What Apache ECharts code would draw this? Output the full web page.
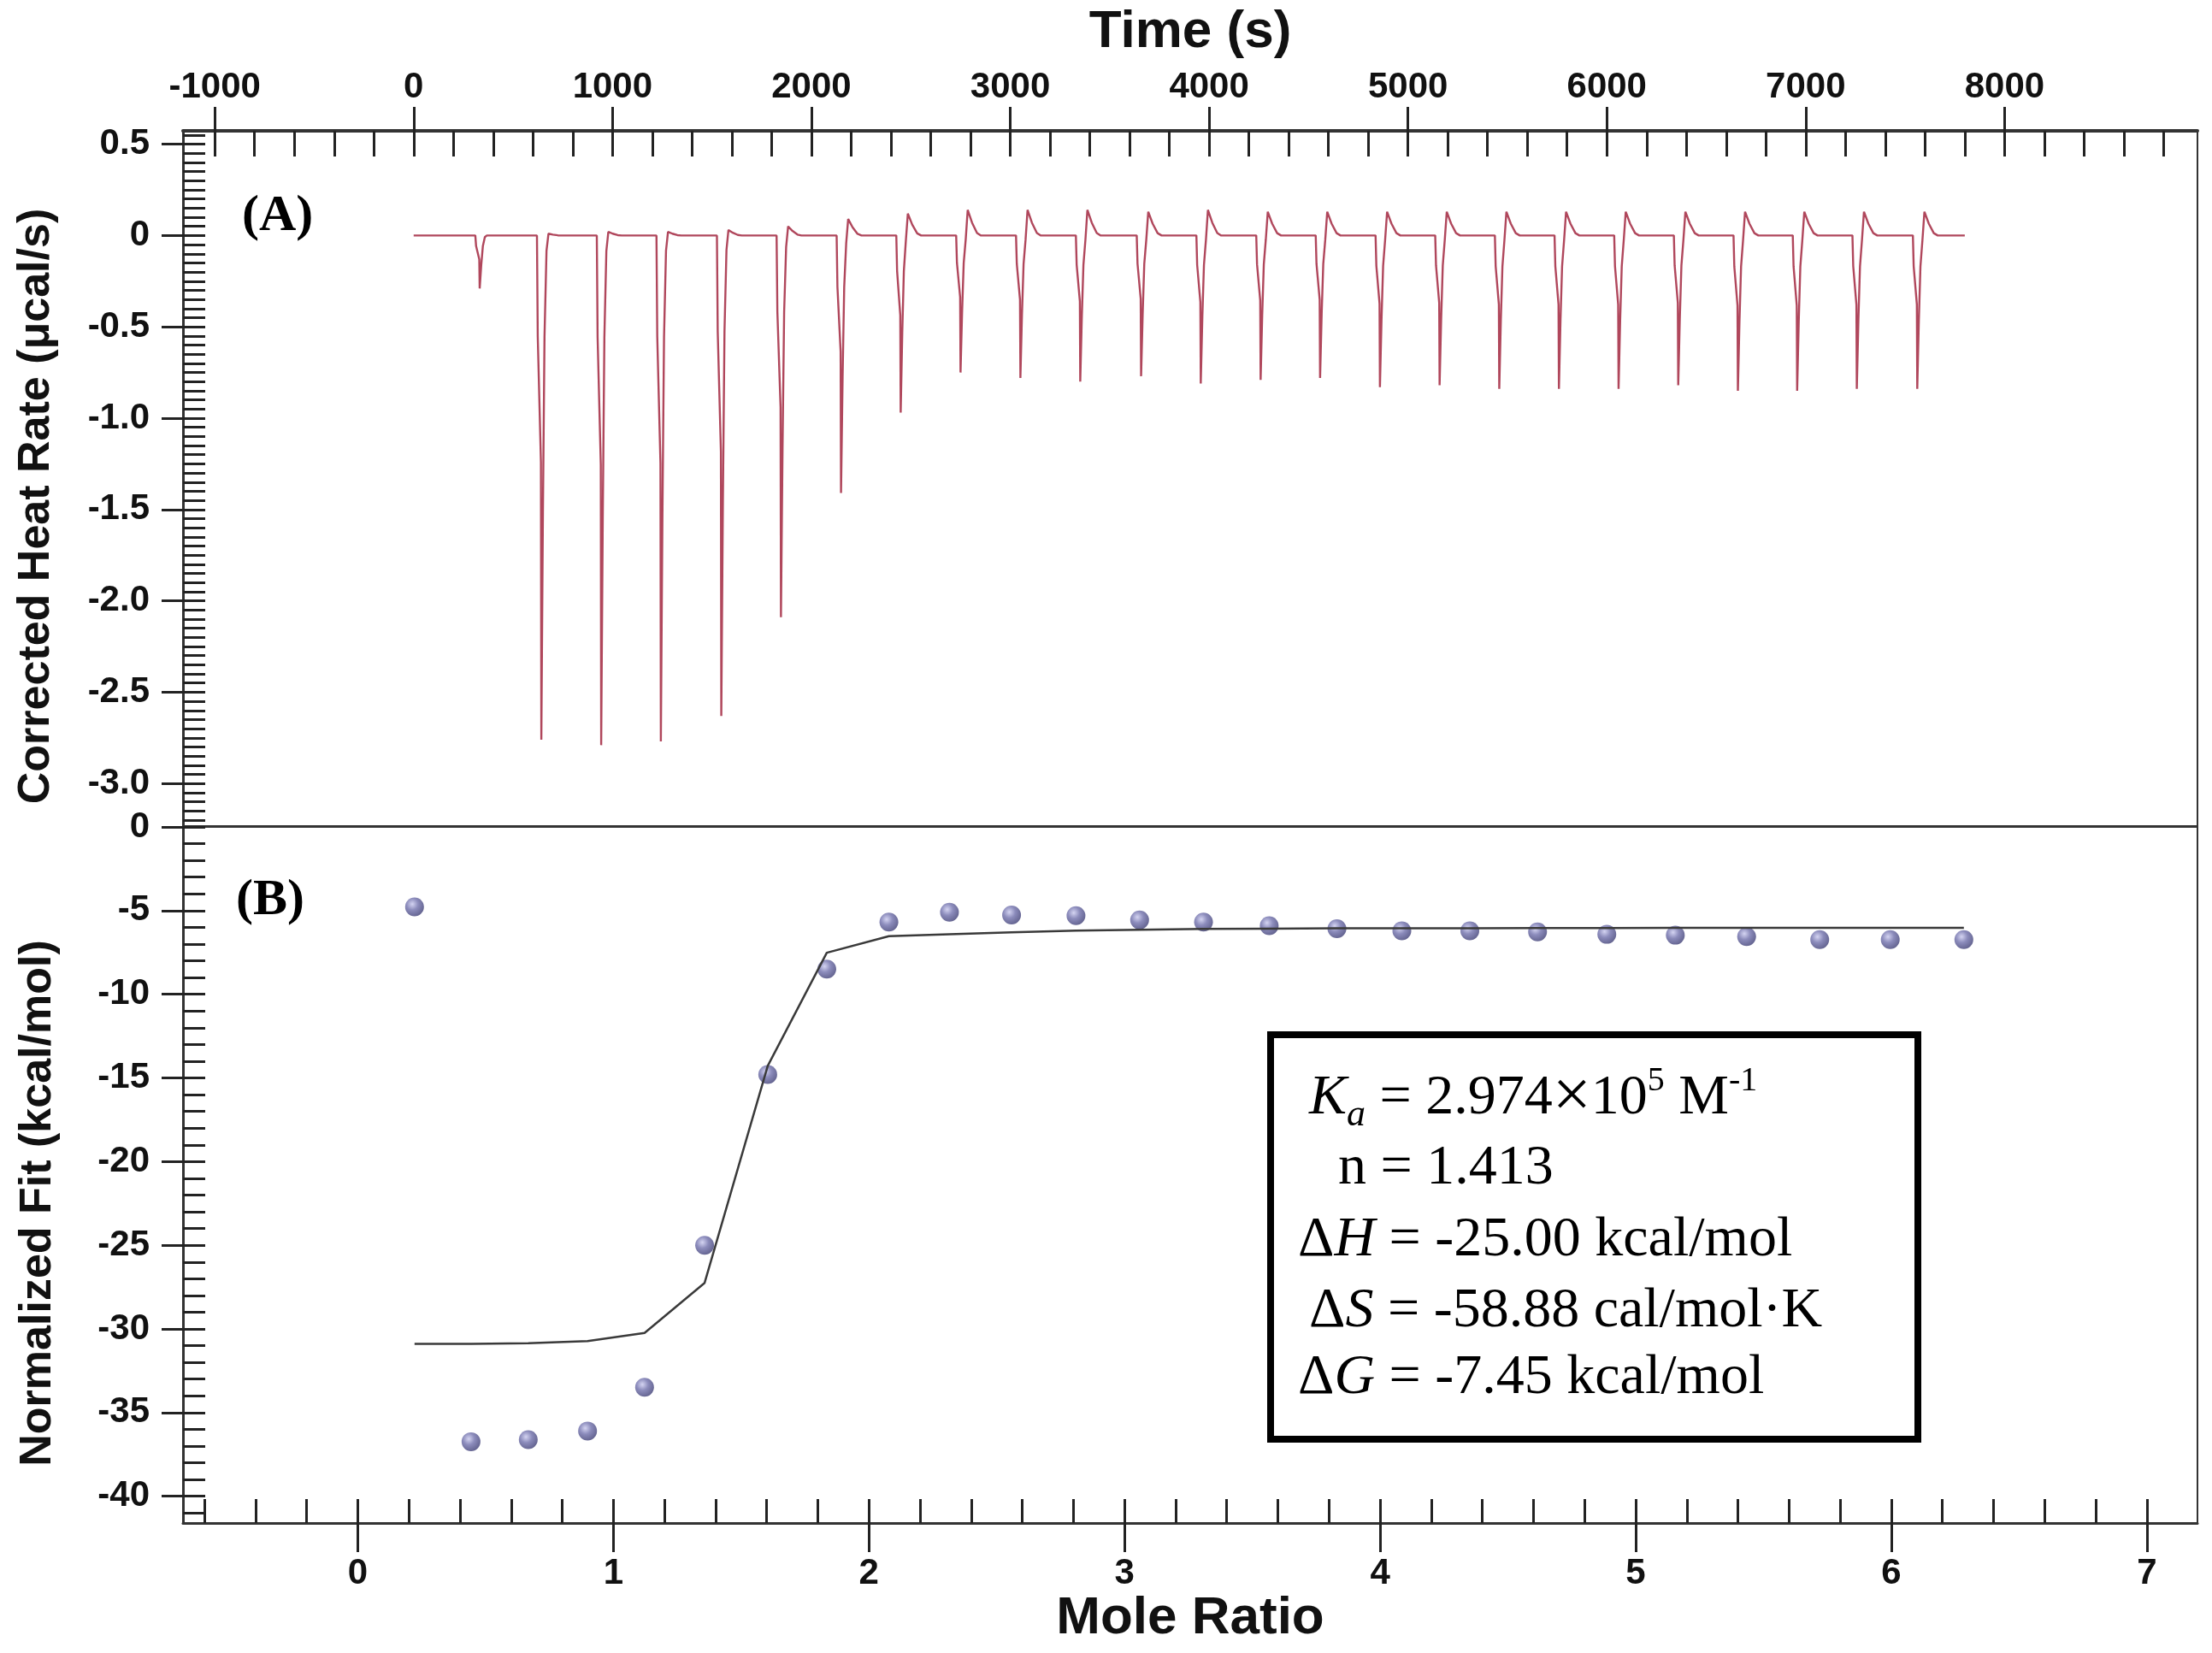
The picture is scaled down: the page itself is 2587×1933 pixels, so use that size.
<!DOCTYPE html>
<html>
<head>
<meta charset="utf-8">
<script src="https://cdn.jsdelivr.net/npm/echarts@6/dist/echarts.min.js"></script>
<style>
html, body { margin: 0; padding: 0; background: #fff; }
#main { width: 2587px; height: 1933px; }
</style>
</head>
<body>
<div id="main"></div>
<script>
// (A) raw heat rate: one peak per injection
var injTime = [310, 620, 921, 1221, 1525, 1825, 2127, 2427, 2728, 3029, 3330, 3636, 3936,
    4237, 4536, 4837, 5137, 5437, 5737, 6037, 6337, 6637, 6935, 7235, 7539];
var peakMin = [-0.29, -2.76, -2.79, -2.77, -2.63, -2.09, -1.41, -0.97, -0.75, -0.78, -0.80, -0.77, -0.81,
    -0.79, -0.78, -0.83, -0.82, -0.84, -0.84, -0.84, -0.82, -0.85, -0.85, -0.84, -0.84];
var peakTop = [0, 0.01, 0.02, 0.02, 0.03, 0.05, 0.09, 0.12, 0.14, 0.14, 0.14, 0.13, 0.14,
    0.13, 0.13, 0.13, 0.13, 0.13, 0.13, 0.13, 0.13, 0.13, 0.13, 0.13, 0.13];
var traceStart = 0, traceEnd = 7800;
// peak outline: seconds after injection, share of the minimum, share of the overshoot
var shapeSec = [0, 4, 20, 22, 30, 38, 48, 58, 80, 105, 125];
var shapeMin = [0, 0.2, 0.45, 1, 0.55, 0.2, 0.03, 0, 0, 0, 0];
var shapeTop = [0, 0, 0, 0, 0, 0, 0, 1, 0.5, 0.1, 0];

// (B) integrated heats and fit
var moleRatio = [0.222, 0.443, 0.667, 0.899, 1.122, 1.357, 1.604, 1.835, 2.078, 2.315, 2.558, 2.81, 3.059,
    3.309, 3.566, 3.831, 4.085, 4.351, 4.616, 4.887, 5.155, 5.434, 5.72, 5.996, 6.284];
var heatObs = [-4.78, -36.74, -36.62, -36.10, -33.49, -25.0, -14.80, -8.50, -5.69, -5.10, -5.26, -5.30, -5.56,
    -5.69, -5.90, -6.08, -6.21, -6.21, -6.27, -6.42, -6.47, -6.55, -6.73, -6.73, -6.73];
var heatFit = [-30.89, -30.89, -30.85, -30.73, -30.24, -27.25, -14.28, -7.52, -6.53, -6.42, -6.30, -6.20, -6.15,
    -6.10, -6.08, -6.06, -6.05, -6.05, -6.04, -6.04, -6.03, -6.03, -6.03, -6.03, -6.03];

// tick labels
var timeLabels = [-1000, 0, 1000, 2000, 3000, 4000, 5000, 6000, 7000, 8000];
var rateLabels = [0.5, 0, -0.5, -1.0, -1.5, -2.0, -2.5, -3.0];
var fitLabels = [0, -5, -10, -15, -20, -25, -30, -35, -40];
var ratioLabels = [0, 1, 2, 3, 4, 5, 6, 7];

var SANS = '"Liberation Sans", Arial, sans-serif';
var SERIF = '"Liberation Serif", "Times New Roman", serif';

function steps(from, to, step) {
    var out = [];
    for (var v = from; v <= to + 1e-9; v += step) {
        out.push(+v.toFixed(4));
    }
    return out;
}

var trace = [[traceStart, 0]];
injTime.forEach(function (t0, i) {
    shapeSec.forEach(function (s, j) {
        trace.push([t0 + s, +(peakMin[i] * shapeMin[j] + peakTop[i] * shapeTop[j]).toFixed(4)]);
    });
});
trace.push([traceEnd, 0]);

var obsData = moleRatio.map(function (x, i) { return [x, heatObs[i]]; });
var fitData = moleRatio.map(function (x, i) { return [x, heatFit[i]]; });

var tickStyle = { color: '#222', width: 3 };
var labelStyle = { color: '#111', fontSize: 42, fontWeight: 'bold', fontFamily: SANS };

// inner axis: line + all ticks pointing in; outer axis: major ticks pointing out + labels
function innerAxis(base, ticks, len, lineWidth) {
    return Object.assign({
        type: 'value',
        splitLine: { show: false },
        axisLine: { show: true, onZero: false, lineStyle: { color: '#333', width: lineWidth } },
        axisTick: { show: true, inside: true, length: len, customValues: ticks, lineStyle: tickStyle },
        axisLabel: { show: false }
    }, base);
}
function outerAxis(base, labels, len, margin, fmt) {
    return Object.assign({
        type: 'value',
        splitLine: { show: false },
        axisLine: { show: false, onZero: false },
        axisTick: { show: true, inside: false, length: len, customValues: labels, lineStyle: tickStyle },
        axisLabel: Object.assign({ customValues: labels, margin: margin, formatter: fmt }, labelStyle)
    }, base);
}

var myChart = echarts.init(document.getElementById('main'));

var timeRange = { min: -1160, max: 8970 };
var rateRange = { min: -3.233, max: 0.573 };
var ratioRange = { min: -0.684, max: 7.198 };
var fitRange = { min: -41.6, max: 0 };

function boxLine(x, y, text) {
    var base = { fontSize: 66, fontFamily: SERIF, fill: '#000', lineHeight: 82, verticalAlign: 'middle' };
    return {
        type: 'text',
        x: x,
        y: y,
        z: 10,
        style: {
            text: text,
            align: 'left',
            verticalAlign: 'middle',
            rich: {
                n: base,
                i: Object.assign({}, base, { fontStyle: 'italic' }),
                x: Object.assign({}, base, { fontSize: 80 }),
                sub: { fontSize: 44, fontFamily: SERIF, fontStyle: 'italic', fill: '#000', lineHeight: 44, verticalAlign: 'bottom' },
                sup: { fontSize: 40, fontFamily: SERIF, fill: '#000', lineHeight: 64, verticalAlign: 'top' }
            }
        }
    };
}

option = {
    backgroundColor: '#fff',
    animation: false,
    grid: [
        { left: 214, top: 153, width: 2356, height: 813, show: true, borderColor: '#333', borderWidth: 2 },
        { left: 214, top: 967, width: 2356, height: 814, show: true, borderColor: '#333', borderWidth: 2 }
    ],
    xAxis: [
        innerAxis(Object.assign({ gridIndex: 0, position: 'top' }, timeRange),
            steps(-1000, 8800, 200), 30, 4),
        outerAxis(Object.assign({ gridIndex: 0, position: 'top' }, timeRange),
            timeLabels, 28, 30, function (v) { return String(v); }),
        innerAxis(Object.assign({ gridIndex: 1, position: 'bottom' }, ratioRange),
            steps(-0.6, 7.0, 0.2), 28, 3),
        outerAxis(Object.assign({ gridIndex: 1, position: 'bottom' }, ratioRange),
            ratioLabels, 34, 38, function (v) { return String(v); })
    ],
    yAxis: [
        innerAxis(Object.assign({ gridIndex: 0, position: 'left' }, rateRange),
            steps(-3.2, 0.55, 0.05), 26, 3),
        outerAxis(Object.assign({ gridIndex: 0, position: 'left' }, rateRange),
            rateLabels, 25, 39, function (v) { return v === 0 ? '0' : v.toFixed(1); }),
        innerAxis(Object.assign({ gridIndex: 1, position: 'left' }, fitRange),
            steps(-41, 0, 1), 26, 3),
        outerAxis(Object.assign({ gridIndex: 1, position: 'left' }, fitRange),
            fitLabels, 25, 39, function (v) { return String(v); })
    ],
    series: [
        {
            name: 'Heat rate',
            type: 'line',
            xAxisIndex: 0,
            yAxisIndex: 0,
            data: trace,
            symbol: 'none',
            lineStyle: { color: '#b0475c', width: 2.4 }
        },
        {
            name: 'Fit',
            type: 'line',
            xAxisIndex: 2,
            yAxisIndex: 2,
            data: fitData,
            symbol: 'none',
            lineStyle: { color: '#3a3a3a', width: 2.5 }
        },
        {
            name: 'Data',
            type: 'scatter',
            xAxisIndex: 2,
            yAxisIndex: 2,
            data: obsData,
            symbolSize: 22,
            itemStyle: {
                color: new echarts.graphic.RadialGradient(0.38, 0.35, 0.7, [
                    { offset: 0, color: '#c9c9ee' },
                    { offset: 0.45, color: '#6f6fab' },
                    { offset: 1, color: '#3b3b72' }
                ])
            }
        }
    ],
    graphic: [
        { type: 'text', x: 1392, y: 38, style: { text: 'Time (s)', fill: '#111', fontSize: 62, fontWeight: 'bold', fontFamily: SANS, align: 'center', verticalAlign: 'middle' } },
        { type: 'text', x: 1392, y: 1893, style: { text: 'Mole Ratio', fill: '#111', fontSize: 62, fontWeight: 'bold', fontFamily: SANS, align: 'center', verticalAlign: 'middle' } },
        { type: 'text', x: 43, y: 592, rotation: Math.PI / 2, style: { text: 'Corrected Heat Rate (μcal/s)', fill: '#111', fontSize: 52, fontWeight: 'bold', fontFamily: SANS, align: 'center', verticalAlign: 'middle' } },
        { type: 'text', x: 45, y: 1407, rotation: Math.PI / 2, style: { text: 'Normalized Fit (kcal/mol)', fill: '#111', fontSize: 52, fontWeight: 'bold', fontFamily: SANS, align: 'center', verticalAlign: 'middle' } },
        { type: 'text', x: 283, y: 253, style: { text: '(A)', fill: '#000', fontSize: 60, fontWeight: 'bold', fontFamily: SERIF, verticalAlign: 'middle' } },
        { type: 'text', x: 276, y: 1053, style: { text: '(B)', fill: '#000', fontSize: 60, fontWeight: 'bold', fontFamily: SERIF, verticalAlign: 'middle' } },
        { type: 'rect', shape: { x: 1486, y: 1210, width: 757, height: 473 }, style: { fill: '#fff', stroke: '#000', lineWidth: 8 } },
        boxLine(1531, 1285, '{i|K}{sub|a}{n| = 2.974}{x|×}{n|10}{sup|5}{n| M}{sup|-1}'),
        boxLine(1565, 1367, '{n|n = 1.413}'),
        boxLine(1518, 1451, '{n|Δ}{i|H}{n| = -25.00 kcal/mol}'),
        boxLine(1531, 1534, '{n|Δ}{i|S}{n| = -58.88 cal/mol·K}'),
        boxLine(1518, 1612, '{n|Δ}{i|G}{n| = -7.45 kcal/mol}')
    ]
};

myChart.setOption(option);
window.addEventListener("resize", function () {
    myChart.resize();
});
</script>
</body>
</html>
